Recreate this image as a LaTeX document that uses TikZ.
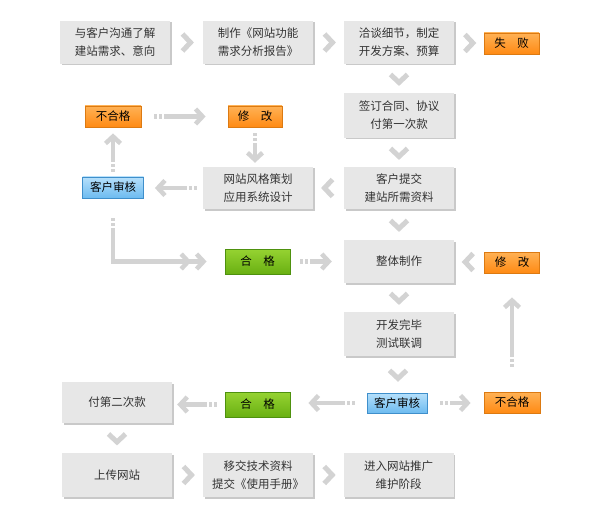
\documentclass[tikz,border=0pt]{standalone}
\usepackage{fontspec}
\setmainfont{Noto Sans CJK SC}
\usetikzlibrary{calc,arrows.meta}
\definecolor{boxgray}{HTML}{E7E7E7}
\definecolor{boxshadow}{HTML}{C9C9C9}
\definecolor{arrgray}{HTML}{D3D3D3}
\definecolor{txt}{HTML}{333333}
\definecolor{orTop}{HTML}{FFB255}
\definecolor{orBot}{HTML}{FF8A14}
\definecolor{orLine}{HTML}{DC7A12}
\definecolor{blTop}{HTML}{B6E0FB}
\definecolor{blBot}{HTML}{6DBBF0}
\definecolor{blLine}{HTML}{3F8FCB}
\definecolor{grTop}{HTML}{96D332}
\definecolor{grBot}{HTML}{69B012}
\definecolor{grLine}{HTML}{4E910E}
\tikzset{
  x=1pt, y=-1pt,
  every node/.style={font=\fontsize{11.5}{18}\selectfont, text=txt, inner sep=0pt},
  box/.style={fill=boxgray, minimum width=110pt, minimum height=43pt, align=center,
    preaction={fill=boxshadow, transform canvas={xshift=1.5pt, yshift=-1.5pt}}},
  tag/.style={draw, line width=0.8pt, minimum height=21pt, text=black},
  orange/.style={tag, draw=orLine, top color=orTop, bottom color=orBot, minimum width=55pt},
  blue/.style={tag, draw=blLine, top color=blTop, bottom color=blBot, minimum width=61pt},
  green/.style={tag, draw=grLine, top color=grTop, bottom color=grBot, minimum width=65pt, minimum height=25pt},
  chev/.style={draw=arrgray, line width=5pt, miter limit=10},
  garrow/.style={draw=arrgray, line width=4.5pt,
    dash pattern=on 3pt off 2pt on 3pt off 2pt on 600pt off 0pt,
    -{Straight Barb[length=7pt,width=15pt,line width=4.5pt]}},
  garrow2/.style={draw=arrgray, line width=4.5pt,
    dash pattern=on 3pt off 2pt on 3pt off 2pt on 600pt off 0pt,
    -{Straight Barb[length=7pt,width=15pt,line width=4.5pt,sep=3pt] Straight Barb[length=7pt,width=15pt,line width=4.5pt]}},
}
\newcommand\chevR[2]{\draw[chev] ($(#1)!0.5!(#2)$) ++(-4,-8.5) -- ++(8,8.5) -- ++(-8,8.5);}
\newcommand\chevL[2]{\draw[chev] ($(#1)!0.5!(#2)$) ++(4,-8.5) -- ++(-8,8.5) -- ++(8,8.5);}
\newcommand\chevD[2]{\draw[chev] ($(#1)!0.5!(#2)$) ++(-8.5,-4) -- ++(8.5,8) -- ++(8.5,-8);}
\begin{document}
\begin{tikzpicture}
\useasboundingbox (0,0) rectangle (593,521);
% gray boxes
\node[box] (A) at (115,42.5) {与客户沟通了解\\建站需求、意向};
\node[box] (B) at (258,42.5) {制作《网站功能\\需求分析报告》};
\node[box] (C) at (399,42.5) {洽谈细节，制定\\开发方案、预算};
\node[box, minimum height=45pt] (D) at (399,115.5) {签订合同、协议\\付第一次款};
\node[box, minimum height=42pt] (E) at (258,188) {网站风格策划\\应用系统设计};
\node[box, minimum height=42pt] (F) at (399,188) {客户提交\\建站所需资料};
\node[box] (G) at (399,261.5) {整体制作};
\node[box, minimum height=44pt] (H) at (399,334) {开发完毕\\测试联调};
\node[box, minimum height=41pt] (I) at (117,402.5) {付第二次款};
\node[box, minimum height=44pt] (J) at (117,475) {上传网站};
\node[box, minimum height=44pt] (K) at (258,475) {移交技术资料\\提交《使用手册》};
\node[box, minimum height=44pt] (L) at (398.5,475) {进入网站推广\\维护阶段};
% tags
\node[orange] (fail) at (511.5,43.5) {失\hspace{1em}败};
\node[orange, minimum width=56pt] (nq1) at (113,116.5) {不合格};
\node[orange, minimum width=54pt] (fix1) at (255,116.5) {修\hspace{1em}改};
\node[blue] (rev1) at (113,187.5) {客户审核};
\node[green] (ok1) at (257.5,261.5) {合\hspace{1em}格};
\node[orange] (fix2) at (512,262.5) {修\hspace{1em}改};
\node[blue, minimum width=60pt, minimum height=20pt] (rev2) at (397,403) {客户审核};
\node[orange, minimum width=56pt] (nq2) at (512,402.5) {不合格};
\node[green] (ok2) at (257.5,404.5) {合\hspace{1em}格};
% chevrons
\chevR{A.east}{B.west}
\chevR{B.east}{C.west}
\chevR{C.east}{fail.west}
\chevD{C.south}{D.north}
\chevL{F.west}{E.east}
\chevD{D.south}{F.north}
\chevD{F.south}{G.north}
\chevL{fix2.west}{G.east}
\chevD{G.south}{H.north}
\chevD{H.south}{rev2.north}
\chevD{I.south}{J.north}
\chevR{J.east}{K.west}
\chevR{K.east}{L.west}
% arrows
\draw[garrow, shorten <=13pt, shorten >=22pt] (nq1.east) -- (fix1.west);
\draw[garrow, shorten <=6pt, shorten >=4pt] (fix1.south) -- (fix1.south |- E.north);
\draw[garrow, shorten <=6pt, shorten >=11pt] (E.west) -- (E.west -| rev1.east);
\draw[garrow, shorten <=5pt, shorten >=6pt] (rev1.north) -- (nq1.south);
\draw[garrow2, shorten <=20pt, shorten >=18pt] (rev1.south) |- (ok1.west);
\draw[garrow, shorten <=10pt, shorten >=12pt] (ok1.east) -- (ok1.east -| G.west);
\draw[garrow, shorten <=25pt, shorten >=24pt] (nq2.north) -- (fix2.south);
\draw[garrow, shorten <=13pt, shorten >=13pt] (rev2.east) -- (rev2.east -| nq2.west);
\draw[garrow, shorten <=12pt, shorten >=18pt] (rev2.west) -- (rev2.west -| ok2.east);
\draw[garrow, shorten <=8pt, shorten >=5pt] (ok2.west) -- (ok2.west -| I.east);
\end{tikzpicture}
\end{document}
